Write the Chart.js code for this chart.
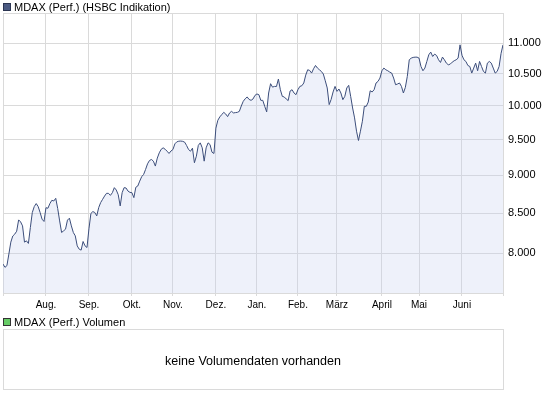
<!DOCTYPE html>
<html>
<head>
<meta charset="utf-8">
<title>MDAX (Perf.)</title>
<script src="https://cdn.jsdelivr.net/npm/chart.js@4/dist/chart.umd.min.js"></script>
<style>
  html, body { margin: 0; padding: 0; background: #fff; }
  #chart { display: block; }
</style>
</head>
<body>
<canvas id="chart" width="545" height="398"></canvas>
<script>
// --- Daten: Schlusskurse je Handelstag (Juli 2010 - Juni 2011) ---
const closes = [
  7868, 7829, 7849, 7988, 8134, 8210, 8233, 8270, 8413, 8388,
  8337, 8134, 8150, 8118, 8316, 8508, 8585, 8624, 8585, 8508,
  8422, 8393, 8570, 8563, 8624, 8667, 8658, 8693, 8560, 8400,
  8254, 8274, 8295, 8410, 8435, 8337, 8254, 8212, 8088, 8048,
  8036, 8142, 8088, 8068, 8300, 8495, 8520, 8508, 8464, 8572,
  8637, 8680, 8723, 8759, 8759, 8732, 8768, 8835, 8803, 8740,
  8593, 8768, 8835, 8830, 8789, 8772, 8768, 8702, 8840, 8857,
  8923, 8983, 9014, 9083, 9160, 9207, 9221, 9197, 9129, 9240,
  9314, 9365, 9385, 9365, 9337, 9305, 9340, 9361, 9442, 9471,
  9480, 9482, 9478, 9466, 9418, 9361, 9337, 9380, 9175, 9267,
  9420, 9456, 9385, 9197, 9385, 9456, 9432, 9323, 9305, 9670,
  9786, 9836, 9870, 9904, 9880, 9840, 9895, 9919, 9895, 9900,
  9904, 9919, 10000, 10071, 10110, 10138, 10100, 10086, 10107, 10162,
  10184, 10173, 10086, 10086, 9995, 9911, 10199, 10344, 10290, 10302,
  10300, 10417, 10250, 10147, 10138, 10107, 10082, 10230, 10250, 10199,
  10173, 10250, 10302, 10312, 10355, 10480, 10565, 10554, 10512, 10581,
  10634, 10592, 10565, 10538, 10497, 10390, 10277, 10021, 10100, 10215,
  10302, 10224, 10261, 10199, 10096, 10147, 10277, 10318, 10147, 9970,
  9821, 9625, 9490, 9625, 9771, 9995, 9995, 10060, 10234, 10215,
  10250, 10355, 10380, 10433, 10549, 10592, 10565, 10549, 10528, 10512,
  10433, 10328, 10339, 10355, 10302, 10199, 10286, 10459, 10726, 10753,
  10765, 10769, 10769, 10753, 10618, 10549, 10592, 10699, 10808, 10852,
  10780, 10819, 10796, 10726, 10683, 10770, 10726, 10672, 10645, 10656,
  10688, 10710, 10726, 10753, 10972, 10800, 10726, 10699, 10634, 10618,
  10512, 10592, 10672, 10549, 10699, 10618, 10538, 10512, 10672, 10699,
  10672, 10592, 10512, 10538, 10618, 10830, 10972
];

// erster Handelstag jedes Monats (Index in closes)
const monthStarts = [22, 44, 66, 87, 109, 130, 151, 171, 194, 213, 235];
const monthLabels = ['Aug.', 'Sep.', 'Okt.', 'Nov.', 'Dez.', 'Jan.', 'Feb.', 'März', 'April', 'Mai', 'Juni'];

const yTicks = [8000, 8500, 9000, 9500, 10000, 10500, 11000];
const yMin = 7530;
const yMax = 11515;

const titel = 'MDAX (Perf.) (HSBC Indikation)';
const volTitel = 'MDAX (Perf.) Volumen';
const volText = 'keine Volumendaten vorhanden';

const FONT = '"Liberation Sans", Arial, sans-serif';
const GRID = '#dadada';

function formatDE(v) {
  return String(v).replace(/\B(?=(\d{3})+(?!\d))/g, '.');
}

// Legenden + leeres Volumen-Panel
const panelPlugin = {
  id: 'panels',
  afterDraw(chart) {
    const ctx = chart.ctx;
    const area = chart.chartArea;
    ctx.save();
    ctx.font = '11px ' + FONT;
    ctx.textBaseline = 'alphabetic';
    ctx.textAlign = 'left';

    // Kurs-Legende
    ctx.fillStyle = '#4b5a82';
    ctx.fillRect(3, 3, 8, 8);
    ctx.strokeStyle = '#2b3552';
    ctx.lineWidth = 1;
    ctx.strokeRect(3.5, 3.5, 7, 7);
    ctx.fillStyle = '#000';
    ctx.fillText(titel, 14, 11);

    // Volumen-Legende
    ctx.fillStyle = '#66cc66';
    ctx.fillRect(3, 318, 8, 8);
    ctx.strokeStyle = '#333';
    ctx.strokeRect(3.5, 318.5, 7, 7);
    ctx.fillStyle = '#000';
    ctx.fillText(volTitel, 14, 326);

    // Volumen-Box
    ctx.strokeStyle = GRID;
    ctx.strokeRect(Math.round(area.left) + 0.5, 329.5, Math.round(area.right - area.left), 60);
    ctx.font = '12.5px ' + FONT;
    ctx.textAlign = 'center';
    ctx.textBaseline = 'middle';
    ctx.fillStyle = '#000';
    ctx.fillText(volText, (area.left + area.right) / 2, 362);
    ctx.restore();
  }
};

new Chart(document.getElementById('chart'), {
  type: 'line',
  data: {
    datasets: [{
      data: closes.map((v, i) => ({ x: i, y: v })),
      borderColor: '#3c4e7b',
      borderWidth: 1,
      backgroundColor: 'rgba(200, 210, 240, 0.3)',
      fill: 'start',
      pointRadius: 0,
      tension: 0
    }]
  },
  options: {
    responsive: false,
    animation: false,
    layout: { padding: { left: 3, top: 13, right: 0, bottom: 0 } },
    plugins: {
      legend: { display: false },
      tooltip: { enabled: false }
    },
    scales: {
      x: {
        type: 'linear',
        min: 0,
        max: closes.length - 1,
        afterBuildTicks(axis) {
          axis.ticks = [0, ...monthStarts, closes.length - 1].map(v => ({ value: v }));
        },
        afterFit(axis) { axis.height = 105; },
        grid: { color: GRID, lineWidth: 1, drawTicks: true, tickLength: 3 },
        border: { display: false },
        ticks: {
          autoSkip: false,
          maxRotation: 0,
          padding: 3,
          color: '#000',
          font: { family: FONT, size: 10 },
          callback(v) {
            const k = monthStarts.indexOf(v);
            return k >= 0 ? monthLabels[k] : '';
          }
        }
      },
      y: {
        type: 'logarithmic',
        position: 'right',
        min: yMin,
        max: yMax,
        afterBuildTicks(axis) {
          axis.ticks = [yMin, ...yTicks, yMax].map(v => ({ value: v }));
        },
        afterFit(axis) { axis.width = 42; },
        grid: { color: GRID, lineWidth: 1, drawTicks: false },
        border: { display: false },
        ticks: {
          autoSkip: false,
          padding: 5,
          color: '#000',
          font: { family: FONT, size: 11 },
          callback(v) {
            return yTicks.includes(v) ? formatDE(v) : '';
          }
        }
      }
    }
  },
  plugins: [panelPlugin]
});
</script>
</body>
</html>
